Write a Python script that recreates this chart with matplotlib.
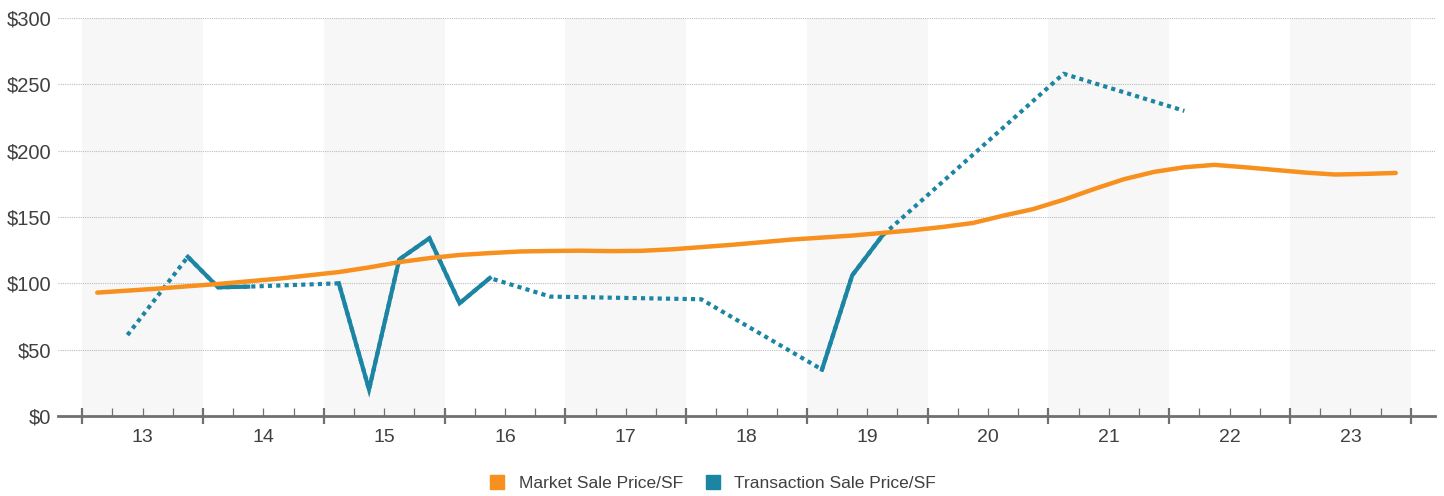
import numpy as np
import matplotlib
matplotlib.use("Agg")
import matplotlib.pyplot as plt
from matplotlib.patches import Patch
from matplotlib.ticker import FixedLocator, FixedFormatter

plt.rcParams["font.family"] = ["Liberation Sans", "DejaVu Sans"]

# Quarterly data, 2013 Q1 .. 2023 Q4
years = ["13", "14", "15", "16", "17", "18", "19", "20", "21", "22", "23"]
market = [93, 94.5, 96, 97.8, 99.5, 101.5, 103.5, 106, 108.5, 112, 116, 119,
          121.4, 122.8, 124, 124.4, 124.6, 124.3, 124.5, 125.6, 127.3, 129, 131, 133,
          134.5, 136, 138, 140, 142.5, 145.5, 151, 156, 163, 171, 178.5, 184,
          187.5, 189.3, 187.5, 185.5, 183.5, 182, 182.5, 183.2]
nan = np.nan
transaction = [nan, 61, nan, 120, 97, 97.5, nan, nan, 100, 20, 118, 134,
               85, 104, nan, 90, nan, nan, nan, nan, 88, nan, nan, nan,
               35, 106, 136, nan, nan, nan, nan, nan, 258, nan, nan, nan,
               230, nan, nan, nan, nan, nan, nan, nan]
y_ticks = [0, 50, 100, 150, 200, 250, 300]

orange = "#F7901E"
teal = "#1D85A4"

x = np.arange(len(market))
trans = np.array(transaction, dtype=float)
ok = ~np.isnan(trans)

fig = plt.figure(figsize=(14.44, 4.96), dpi=100)
ax = fig.add_axes([58 / 1444, 1 - 416 / 496, (1435 - 58) / 1444, (416 - 18) / 496])

# alternating year bands
for k in range(0, len(years), 2):
    ax.axvspan(4 * k - 0.5, 4 * k + 3.5, color="#F7F7F7", lw=0, zorder=0)

ax.set_yticks(y_ticks)
ax.set_yticklabels(["$%d" % v for v in y_ticks])
ax.yaxis.grid(True, color="#BDBDBD", linestyle=(0, (1, 1)), linewidth=0.8)
ax.set_axisbelow(True)

# transaction: dotted across gaps, solid where consecutive
ax.plot(x[ok], trans[ok], color=teal, lw=3, linestyle=(0, (1, 1)),
        solid_capstyle="butt", zorder=3)
ax.plot(x, trans, color=teal, lw=3, solid_joinstyle="miter", zorder=4)
ax.plot(x, market, color=orange, lw=3.2, solid_capstyle="round", zorder=5)

ax.set_xlim(-1.3, 44.3)
ax.set_ylim(0, 300)

for s in ["top", "right", "left"]:
    ax.spines[s].set_visible(False)
ax.spines["bottom"].set_color("#707070")
ax.spines["bottom"].set_linewidth(2)

majors = [4 * k - 0.5 for k in range(len(years) + 1)]
ax.xaxis.set_major_locator(FixedLocator(majors))
ax.xaxis.set_major_formatter(FixedFormatter([""] * len(majors)))
minors = [q + 0.5 for q in range(-1, 44) if (q + 1) % 4 != 0]
minor_labels = []
for m in minors:
    if (m + 0.5) % 4 == 2:
        minor_labels.append(years[int((m + 0.5) // 4)])
    else:
        minor_labels.append("")
ax.xaxis.set_minor_locator(FixedLocator(minors))
ax.xaxis.set_minor_formatter(FixedFormatter(minor_labels))
ax.tick_params(axis="x", which="major", direction="inout", length=11,
               width=1.6, color="#707070")
ax.tick_params(axis="x", which="minor", direction="in", length=5.5,
               width=0.9, color="#707070", labelsize=14, labelcolor="#404040", pad=9)
ax.tick_params(axis="y", length=0, labelsize=14.5, labelcolor="#404040", pad=5)

handles = [Patch(color=orange, label="Market Sale Price/SF"),
           Patch(color=teal, label="Transaction Sale Price/SF")]
fig.legend(handles=handles, loc="center", bbox_to_anchor=(0.494, 0.026), ncol=2,
           frameon=False, fontsize=12.5, handlelength=0.8, handleheight=0.8,
           columnspacing=1.3, handletextpad=0.85, labelcolor="#404040")

fig.savefig("out.png", dpi=100)
